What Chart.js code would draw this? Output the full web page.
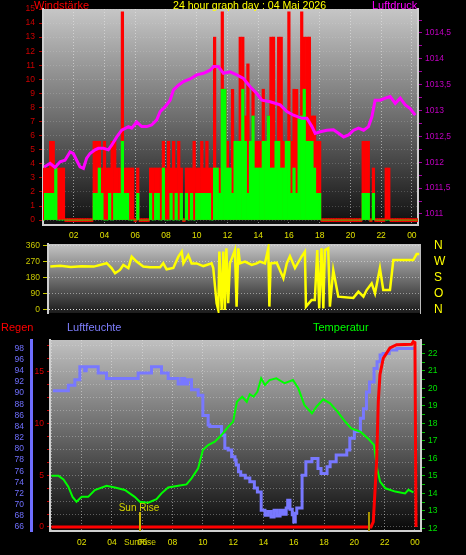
<!DOCTYPE html>
<html>
<head>
<meta charset="utf-8">
<script src="https://cdn.jsdelivr.net/npm/chart.js@4.4.1/dist/chart.umd.min.js"></script>
<style>
    body { margin: 0; background: #000; width: 466px; height: 555px; overflow: hidden; position: relative; font-family: "Liberation Sans", Arial, sans-serif; }
    canvas { position: absolute; left: 0; }
    .hd { position: absolute; font-size: 11px; line-height: 11px; white-space: nowrap; z-index: 2; }
</style>
</head>
<body>
<canvas id="windChart" width="466" height="243" style="top:0"></canvas>
<canvas id="dirChart" width="466" height="88" style="top:230px"></canvas>
<canvas id="climateChart" width="466" height="237" style="top:318px"></canvas>

<div class="hd" style="left:34px;top:0;color:#ff0000">Windstärke</div>
<div class="hd" style="left:173px;top:0;color:#ffff00;font-size:10.6px">24 hour graph day : 04 Mai 2026</div>
<div class="hd" style="left:372px;top:0;color:#ff00ff">Luftdruck</div>
<div class="hd" style="left:1px;top:322px;color:#ff0000">Regen</div>
<div class="hd" style="left:67px;top:322px;color:#7f7fff">Luftfeuchte</div>
<div class="hd" style="left:313px;top:322px;color:#00ff00">Temperatur</div>

<script>
// wind, 10 minute steps (km/h)
const windHours = [];
for (let i = 0; i <= 146; i++) windHours.push(i / 6);

const windGust = [
    3.7, 3.7, 3.7, 5.6, 5.6, 3.7, 3.7, 3.7, 3.7, 0,
    0, 0, 0, 0, 0, 0, 0, 0, 0, 0,
    5.6, 5.6, 5.6, 3.7, 5.6, 3.7, 3.7, 5.6, 5.6, 3.7,
    3.7, 14.8, 3.7, 3.7, 3.7, 3.7, 0, 3.7, 0, 0,
    0, 0, 3.7, 3.7, 3.7, 3.7, 3.7, 5.6, 3.7, 5.6,
    3.7, 5.6, 3.7, 5.6, 3.7, 0, 3.7, 3.7, 3.7, 5.6,
    3.7, 3.7, 5.6, 3.7, 5.6, 3.7, 3.7, 13, 3.7, 3.7,
    14.8, 9.3, 5.6, 3.7, 9.3, 5.6, 5.6, 13, 13, 7.4,
    11.1, 5.6, 9.3, 5.6, 5.6, 5.6, 9.3, 5.6, 7.4, 13,
    13, 5.6, 13, 13, 5.6, 5.6, 14.8, 5.6, 9.3, 9.3,
    7.4, 14.8, 13, 13, 13, 7.4, 7.4, 5.6, 5.6, 0,
    0, 0, 0, 0, 0, 0, 0, 0, 0, 0,
    0, 0, 0, 0, 0, 5.6, 5.6, 5.6, 0, 3.7,
    0, 0, 0, 0, 3.7, 3.7, 0, 0, 0, 0,
    0, 0, 0, 0, 0, 0, 0
];

const windAvg = [
    0, 1.9, 1.9, 1.9, 1.9, 3.7, 0, 0, 0, 0,
    0, 0, 0, 0, 0, 0, 0, 0, 0, 0,
    1.9, 1.9, 3.7, 1.9, 0, 0, 1.9, 0, 1.9, 1.9,
    1.9, 5.6, 1.9, 1.9, 0, 0, 0, 1.9, 0, 0,
    0, 0, 1.9, 0, 1.9, 1.9, 0, 3.7, 0, 0,
    1.9, 0, 1.9, 0, 1.9, 0, 1.9, 0, 1.9, 0,
    1.9, 1.9, 1.9, 1.9, 1.9, 1.9, 0, 3.7, 3.7, 1.9,
    9.3, 9.3, 3.7, 3.7, 1.9, 5.6, 5.6, 5.6, 9.3, 5.6,
    1.9, 5.6, 7.4, 3.7, 3.7, 3.7, 5.6, 5.6, 7.4, 3.7,
    3.7, 5.6, 5.6, 3.7, 3.7, 5.6, 5.6, 1.9, 3.7, 1.9,
    7.4, 7.4, 9.3, 5.6, 5.6, 5.6, 3.7, 1.9, 1.9, 0,
    0, 0, 0, 0, 0, 0, 0, 0, 0, 0,
    0, 0, 0, 0, 0, 1.9, 1.9, 1.9, 0, 1.9,
    0, 0, 0, 0, 0, 0, 0, 0, 0, 0,
    0, 0, 0, 0, 0, 0, 0
];

// pressure (hPa)
const presHours = [0.07, 0.46, 0.78, 1.11, 1.43, 1.76, 1.97, 2.19, 2.41, 2.63, 2.84, 3.06, 3.39, 3.6, 3.93,
    4.25, 4.47, 4.8, 5.12, 5.56, 5.77, 6.1, 6.42, 6.75, 7.07, 7.4, 7.62, 7.94, 8.27, 8.49, 8.81, 9.14,
    9.57, 10.0, 10.44, 10.87, 11.09, 11.41, 11.74, 12.17, 12.61, 13.04, 13.48, 13.91, 14.24, 14.78,
    15.43, 15.87, 16.3, 16.85, 17.17, 17.5, 17.71, 18.04, 18.47, 18.9, 19.23, 19.56, 19.88, 20.21,
    20.53, 20.86, 21.18, 21.4, 21.61, 21.94, 22.27, 22.59, 22.92, 23.24, 23.57, 23.89, 24.22];
const presHpa = [1011.91, 1011.98, 1011.90, 1012.01, 1012.04, 1012.20, 1012.17, 1012.04, 1011.91, 1011.88,
    1012.08, 1012.17, 1012.24, 1012.27, 1012.27, 1012.24, 1012.33, 1012.49, 1012.62, 1012.69, 1012.66,
    1012.78, 1012.69, 1012.69, 1012.72, 1012.82, 1012.98, 1013.07, 1013.20, 1013.40, 1013.49, 1013.56,
    1013.61, 1013.69, 1013.72, 1013.78, 1013.85, 1013.85, 1013.72, 1013.75, 1013.69, 1013.62, 1013.46,
    1013.33, 1013.20, 1013.17, 1013.11, 1012.98, 1012.91, 1012.85, 1012.85, 1012.69, 1012.56, 1012.59,
    1012.62, 1012.63, 1012.56, 1012.49, 1012.53, 1012.62, 1012.66, 1012.62, 1012.69, 1012.88, 1013.20,
    1013.20, 1013.24, 1013.27, 1013.14, 1013.24, 1013.11, 1013.04, 1012.91];

// wind direction (degrees)
const dirHours = [0.15, 0.8, 1.5, 2.2, 3.0, 3.85, 4.17, 4.4, 4.72, 4.94, 5.27, 5.49, 5.81, 6.25, 6.69, 7.35,
    7.56, 7.78, 8.22, 8.55, 8.77, 8.88, 9.2, 9.42, 9.75, 10.19, 10.73, 10.84, 11.06, 11.17, 11.24, 11.39,
    11.5, 11.6, 11.7, 11.82, 11.93, 12.26, 12.37, 12.48, 12.59, 12.92, 13.36, 13.69, 13.9, 14.23, 14.45,
    14.52, 14.6, 15.0, 15.44, 15.66, 15.87, 16.2, 16.63, 16.85, 16.92, 17.29, 17.5, 17.66, 17.79, 17.94,
    18.06, 18.16, 18.38, 18.49, 18.71, 19.04, 20.03, 20.36, 20.69, 20.9, 21.23, 21.45, 21.77, 21.99,
    22.43, 22.65, 23.96, 24.18, 24.35];
const dirDeg = [245, 248, 242, 246, 244, 263, 236, 206, 225, 253, 236, 300, 272, 244, 240, 240,
    263, 229, 236, 300, 328, 262, 309, 262, 262, 247, 262, 236, 38, 0, 328, 0,
    328, 0, 347, 38, 262, 337, 19, 347, 262, 272, 253, 262, 272, 262, 347,
    19, 262, 266, 178, 262, 303, 236, 300, 328, 19, 56, 56, 337, 9, 347,
    9, 337, 347, 19, 225, 75, 68, 103, 75, 112, 150, 94, 236, 112,
    112, 281, 281, 315, 315];
const compassDeg = [0, 90, 180, 270, 360];
const compassLabels = ['N', 'O', 'S', 'W', 'N'];

// humidity (%)
const humHours = [0.1, 1.12, 1.55, 1.88, 2.2, 2.3, 3.09, 3.64, 5.73, 6.61, 7.27, 7.71, 8.37, 8.6, 8.8, 9.0,
    9.25, 9.69, 10.0, 10.35, 10.46, 11.23, 11.45, 11.67, 11.9, 12.12, 12.2, 12.35, 12.5, 12.8, 13.1, 13.4,
    13.6, 13.85, 14.1, 14.3, 14.5, 14.7, 14.9, 15.1, 15.3, 15.5, 15.6, 15.75, 15.9, 16.0, 16.1, 16.2,
    16.55, 16.8, 17.2, 17.6, 17.8, 18.2, 18.4, 18.8, 19.5, 19.7, 20.0, 20.4, 20.6, 20.8, 21.0, 21.3,
    21.5, 21.7, 21.9, 22.3, 22.8, 24.07];
const humPct = [90.4, 91.4, 92.4, 94.7, 94.0, 94.7, 93.6, 92.6, 93.6, 94.7, 93.6, 92.6, 91.6, 92.6, 91.6, 92.4,
    90.6, 89.6, 86.0, 84.3, 84.0, 82.5, 80.1, 79.8, 78.6, 78.0, 77.1, 75.9, 75.3, 74.8, 74.1, 73.0,
    72.3, 69.0, 68.1, 68.8, 67.8, 69.0, 68.0, 69.0, 68.3, 69.4, 70.8, 69.2, 68.2, 66.9, 68.5, 69.4,
    75.3, 77.7, 78.3, 76.5, 75.6, 76.8, 77.7, 78.9, 79.8, 81.9, 83.1, 85.5, 87.2, 90.2, 92.0, 94.4,
    95.6, 96.8, 97.1, 97.7, 98.0, 98.0];

// temperature (°C)
const tempHours = [0.0, 0.48, 0.8, 1.12, 1.4, 1.66, 2.0, 2.43, 2.87, 3.64, 4.19, 4.85, 5.5, 5.84, 6.39, 6.94,
    7.27, 7.71, 8.37, 8.92, 9.25, 9.69, 10.0, 10.35, 10.79, 11.23, 11.67, 12.0, 12.12, 12.25, 12.6, 12.9,
    13.1, 13.35, 13.6, 13.85, 14.1, 14.4, 14.85, 15.4, 15.95, 16.3, 16.7, 17.2, 17.5, 17.95, 18.4, 18.9,
    19.4, 19.8, 20.4, 20.9, 21.3, 21.5, 21.7, 22.05, 22.7, 23.35, 23.57, 23.9];
const tempC = [15.0, 15.0, 14.8, 14.38, 13.8, 13.52, 13.8, 13.8, 14.19, 14.43, 14.34, 14.19, 13.8, 13.52, 13.47, 13.67,
    14.0, 14.34, 14.43, 14.51, 14.86, 15.43, 16.47, 16.76, 16.95, 17.33, 17.8, 18.1, 18.66, 19.23, 19.52, 19.23,
    19.66, 19.52, 19.8, 20.57, 20.19, 20.47, 20.57, 20.29, 20.47, 20.0, 19.05, 18.57, 18.95, 19.37, 19.14, 18.66,
    18.09, 17.71, 17.52, 17.14, 16.76, 15.43, 14.67, 14.29, 14.1, 14.0, 14.2, 14.05];

// rain (mm)
const rainHours = [0, 21.1, 21.25, 21.47, 21.58, 21.69, 21.91, 22.35, 22.79, 23.78, 23.89, 24.0, 24.07];
const rainMm = [0, 0, 0.5, 6.3, 12.1, 14.7, 16.3, 17.3, 17.6, 17.65, 17.9, 17.8, 0];

const sunRiseHour = 5.85;
const sunSetHour = 21.0;
const sunRiseText = 'Sun Rise';
const sunRiseAxisText = 'SunRise';

const FONT = '"Liberation Sans", Arial, sans-serif';
Chart.defaults.font.family = FONT;
Chart.defaults.animation = false;
Chart.defaults.events = [];
Chart.defaults.plugins.legend.display = false;
Chart.defaults.plugins.tooltip.enabled = false;

function pts(xs, ys) {
    return xs.map((x, i) => ({ x: x, y: ys[i] }));
}

// pin an axis box to a fixed size and drop the label overhang padding
function fixBox(w, h) {
    return scale => {
        if (w !== null) scale.width = w;
        if (h !== null) scale.height = h;
        scale.paddingTop = scale.paddingBottom = scale.paddingLeft = scale.paddingRight = 0;
    };
}

function hourLabel(v) {
    if (v <= 0) return '';
    if (v === 24) return '00';
    return String(v).padStart(2, '0');
}

const plotBg = {
    id: 'plotBg',
    beforeDraw(chart, args, opts) {
        const { ctx, chartArea: a } = chart;
        const g = ctx.createLinearGradient(0, a.top, 0, a.bottom);
        opts.stops.forEach(s => g.addColorStop(s[0], s[1]));
        ctx.save();
        ctx.fillStyle = g;
        ctx.fillRect(a.left, a.top, a.right - a.left, a.bottom - a.top);
        ctx.restore();
    }
};

const sunMarks = {
    id: 'sunMarks',
    afterDraw(chart) {
        const { ctx, chartArea: a } = chart;
        const x = chart.scales.x;
        ctx.save();
        [[sunRiseHour, '#c8b400'], [sunSetHour, '#a89400']].forEach(m => {
            const px = Math.round(x.getPixelForValue(m[0]));
            ctx.strokeStyle = m[1];
            ctx.lineWidth = 2;
            ctx.beginPath();
            ctx.moveTo(px, a.bottom - 19);
            ctx.lineTo(px, a.bottom);
            ctx.stroke();
        });
        const sx = x.getPixelForValue(sunRiseHour);
        ctx.fillStyle = '#d4d400';
        ctx.font = '10px ' + FONT;
        ctx.textAlign = 'center';
        ctx.fillText(sunRiseText, sx - 1, a.bottom - 20.5);
        ctx.font = '8.5px ' + FONT;
        ctx.fillText(sunRiseAxisText, sx, a.bottom + 14);
        ctx.restore();
    }
};

const dotted = [1, 2];
const edge = '#cfcfcf';
const barOpts = { barPercentage: 1, categoryPercentage: 1, grouped: false, borderWidth: 0, yAxisID: 'yW' };

new Chart(document.getElementById('windChart'), {
    type: 'bar',
    data: {
        datasets: [
            { type: 'line', data: pts(presHours, presHpa), yAxisID: 'yP', borderColor: '#ff00ff', borderWidth: 3, pointRadius: 0, order: 0 },
            Object.assign({ data: pts(windHours, windAvg), backgroundColor: '#00ff00', order: 1 }, barOpts),
            Object.assign({ data: pts(windHours, windGust), backgroundColor: '#ff0000', order: 2, minBarLength: 3 }, barOpts)
        ]
    },
    options: {
        responsive: false,
        layout: { padding: { top: 9, left: 0, right: 0, bottom: 0 } },
        scales: {
            x: {
                type: 'linear', min: 0, max: 24.4, offset: false,
                afterFit: fixBox(null, 18),
                grid: { offset: false, color: 'rgba(235,235,235,0.55)', drawTicks: false },
                border: { color: edge, width: 2, dash: dotted },
                ticks: { stepSize: 2, includeBounds: false, autoSkip: false, maxRotation: 0, color: '#e0e000', font: { size: 8.5 }, padding: 6, callback: hourLabel }
            },
            yW: {
                position: 'left', min: -0.35, max: 15,
                afterFit: fixBox(43, null),
                grid: { color: 'rgba(225,225,225,0.22)', tickColor: '#b00000', tickLength: 4 },
                border: { color: edge, width: 2, dash: dotted },
                ticks: { stepSize: 1, includeBounds: false, autoSkip: false, color: '#cc0000', font: { size: 8.5 }, padding: 4 }
            },
            yP: {
                position: 'right', min: 1010.787, max: 1014.964,
                afterFit: fixBox(48, null),
                grid: { drawOnChartArea: false, tickColor: '#a000a0', tickLength: 4 },
                border: { color: edge, width: 2 },
                ticks: {
                    stepSize: 0.25, includeBounds: false, autoSkip: false, color: '#c000c0', font: { size: 8.5 }, padding: 3,
                    callback: v => Math.abs(v * 2 - Math.round(v * 2)) < 1e-6 ? String(v).replace('.', ',') : ''
                }
            }
        },
        plugins: { plotBg: { stops: [[0, '#c6c6c6'], [0.5, '#6e6e6e'], [1, '#0e0e0e']] } }
    },
    plugins: [plotBg]
});

new Chart(document.getElementById('dirChart'), {
    type: 'line',
    data: {
        datasets: [
            { data: pts(dirHours, dirDeg), borderColor: '#ffff00', borderWidth: 2.5, pointRadius: 0, yAxisID: 'y' }
        ]
    },
    options: {
        responsive: false,
        layout: { padding: { top: 14, left: 0, right: 0, bottom: 5 } },
        scales: {
            x: { type: 'linear', min: 0, max: 24.4, display: false },
            y: {
                position: 'left', min: -17, max: 371,
                afterFit: fixBox(48, null),
                grid: { color: c => c.tick && c.tick.value === 0 ? '#d8d8d8' : 'rgba(235,235,235,0.5)', tickColor: '#c8c800', tickLength: 5 },
                border: { color: edge, width: 2, dash: dotted },
                ticks: { stepSize: 90, includeBounds: false, autoSkip: false, color: '#c8c800', font: { size: 8.5 }, padding: 3 }
            },
            y2: {
                position: 'right', min: -17, max: 371,
                afterFit: fixBox(46, null),
                grid: { drawOnChartArea: false, drawTicks: false },
                border: { color: '#bdbdbd', width: 1 },
                ticks: {
                    stepSize: 90, includeBounds: false, autoSkip: false, color: '#ffff00', font: { size: 12 }, padding: 14,
                    callback: v => compassLabels[compassDeg.indexOf(v)] || ''
                }
            }
        },
        plugins: { plotBg: { stops: [[0, '#c4c4c4'], [1, '#1c1c1c']] } }
    },
    plugins: [plotBg]
});

new Chart(document.getElementById('climateChart'), {
    type: 'line',
    data: {
        datasets: [
            { data: pts(rainHours, rainMm), yAxisID: 'yR', borderColor: '#ff0000', borderWidth: 3, order: 0 },
            { data: pts(tempHours, tempC), yAxisID: 'yT', borderColor: '#00ff00', borderWidth: 2, order: 1 },
            { data: pts(humHours, humPct), yAxisID: 'yH', borderColor: '#7878ff', borderWidth: 3, stepped: true, order: 2 }
        ]
    },
    options: {
        responsive: false,
        layout: { padding: { top: 22, left: 0, right: 0, bottom: 0 } },
        elements: { point: { radius: 0 }, line: { tension: 0 } },
        scales: {
            x: {
                type: 'linear', min: -0.09, max: 24.4,
                afterFit: fixBox(null, 24),
                grid: { color: 'rgba(235,235,235,0.5)', drawTicks: false },
                border: { color: edge, width: 2, dash: dotted },
                ticks: { stepSize: 2, includeBounds: false, autoSkip: false, maxRotation: 0, color: '#e0e000', font: { size: 8.5 }, padding: 7, callback: hourLabel }
            },
            yR: {
                position: 'left', weight: 1, min: -0.39, max: 18.06,
                afterFit: fixBox(19, null),
                grid: { color: 'rgba(225,225,225,0.35)', tickColor: '#c00000', tickLength: 3 },
                border: { color: edge, width: 2, dash: dotted },
                ticks: { stepSize: 1.25, includeBounds: false, autoSkip: false, color: '#dd0000', font: { size: 8.5 }, padding: 3, callback: v => v % 5 === 0 ? String(v) : '' }
            },
            yH: {
                position: 'left', weight: 2, min: 65.3, max: 99.5,
                afterFit: fixBox(31, null),
                grid: { drawOnChartArea: false, drawTicks: false },
                border: { color: '#6f6fff', width: 3 },
                ticks: { stepSize: 2, includeBounds: false, autoSkip: false, color: '#7070ff', font: { size: 8.5 }, padding: 7 }
            },
            yT: {
                position: 'right', min: 11.85, max: 22.76,
                afterFit: fixBox(45, null),
                grid: { drawOnChartArea: false, tickColor: '#00c000', tickLength: 4 },
                border: { color: edge, width: 2 },
                ticks: { stepSize: 0.5, includeBounds: false, autoSkip: false, color: '#00e000', font: { size: 8.5 }, padding: 3, callback: v => Number.isInteger(v) ? String(v) : '' }
            }
        },
        plugins: { plotBg: { stops: [[0, '#c0c0c0'], [0.5, '#666666'], [1, '#080808']] } }
    },
    plugins: [plotBg, sunMarks]
});
</script>
</body>
</html>
